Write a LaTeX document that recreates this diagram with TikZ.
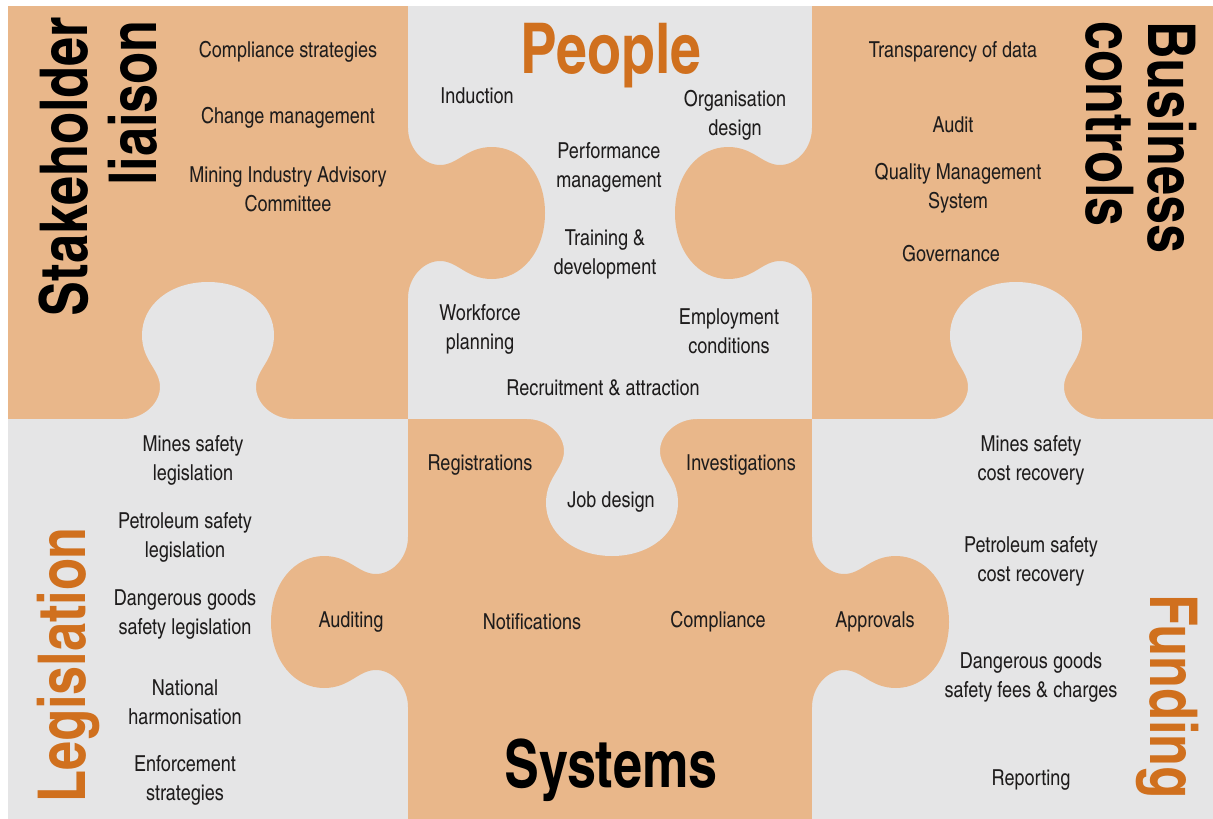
\documentclass[tikz,border=0pt]{standalone}
\usepackage{fontspec}
\setmainfont{texgyreheroscn}[Extension=.otf, UprightFont=*-regular, BoldFont=*-bold, ItalicFont=*-italic, BoldItalicFont=*-bolditalic, BoldFeatures={FakeStretch=0.965}]
\definecolor{pieceorange}{RGB}{233,183,138}
\definecolor{piecegray}{RGB}{229,229,230}
\definecolor{titleorange}{RGB}{208,112,30}
\definecolor{textdark}{RGB}{30,28,28}
\tikzstyle{item} = [align=center, text=textdark, inner sep=0pt, yshift=-2pt, font=\fontsize{22}{29}\selectfont]
\tikzstyle{heading} = [inner sep=0pt, font=\fontsize{66}{66}\selectfont\bfseries]

\begin{document}
\begin{tikzpicture}[x=1pt, y=-1pt]

  \useasboundingbox (0,0) rectangle (1213,819);

  % pieces
  \fill[pieceorange] (8,6) rectangle (408,419);
  \fill[piecegray] (408,6) rectangle (812,419);
  \fill[pieceorange] (812,6) rectangle (1213,419);
  \fill[piecegray] (8,419) rectangle (408,819);
  \fill[pieceorange] (408,419) rectangle (812,819);
  \fill[piecegray] (812,419) rectangle (1213,819);

  % tabs: base x / base y / direction / colour
  \foreach \bx/\by/\rot/\col in {208/419/90/piecegray, 408/213/0/pieceorange,
    812/213/180/pieceorange, 1016/419/90/piecegray, 612/419/-90/piecegray,
    408/622/180/pieceorange, 812/622/0/pieceorange} {
    \fill[\col, shift={(\bx,\by)}, rotate=\rot]
    (-1,-85) -- (0,-85) .. controls (0,-65) and (15,-48) .. (32,-48)
    .. controls (50,-48) and (58,-66) .. (84,-66)
    .. controls (114,-66) and (137,-38) .. (137,0)
    .. controls (137,38) and (114,66) .. (84,66)
    .. controls (58,66) and (50,48) .. (32,48)
    .. controls (15,48) and (0,65) .. (0,85) -- (-1,85) -- cycle;
  }

  % Stakeholder liaison
  \node[heading, rotate=90, anchor=base east] (stake) at (87,17) {Stakeholder};
  \node[heading, rotate=90, anchor=base east] (liaison) at (156,20) {liaison};
  \node[item] (compl) at (288,50) {Compliance strategies};
  \node[item] (change) at (288,116) {Change management};
  \node[item] (miac) at (288,187) {Mining Industry Advisory\\Committee};

  % People
  \node[heading, text=titleorange, anchor=base, font=\fontsize{70}{70}\selectfont\bfseries] (people) at (611,73) {People};
  \node[item] (induct) at (477,94) {Induction};
  \node[item] (orgdes) at (735,113) {Organisation\\design};
  \node[item] (perf) at (609,165) {Performance\\management};
  \node[item] (train) at (605,252) {Training \&\\development};
  \node[item] (workf) at (480,327) {Workforce\\planning};
  \node[item] (employ) at (729,329) {Employment\\conditions};
  \node[item] (recruit) at (603,386) {Recruitment \& attraction};

  % Business controls
  \node[heading, rotate=-90, anchor=base west] (business) at (1148,21) {Business};
  \node[heading, rotate=-90, anchor=base west] (controls) at (1086,21) {controls};
  \node[item] (transp) at (953,50) {Transparency of data};
  \node[item] (audit) at (953,123) {Audit};
  \node[item] (qms) at (958,186) {Quality Management\\System};
  \node[item] (govern) at (951,252) {Governance};

  % Legislation
  \node[heading, text=titleorange, rotate=90, anchor=base west] (legis) at (85,803) {Legislation};
  \node[item] (minesleg) at (193,458) {Mines safety\\legislation};
  \node[item] (petrolleg) at (185,535) {Petroleum safety\\legislation};
  \node[item] (dangleg) at (185,613) {Dangerous goods\\safety legislation};
  \node[item] (harmon) at (185,700) {National\\harmonisation};
  \node[item] (enforce) at (185,778) {Enforcement\\strategies};

  % Systems
  \node[heading, anchor=base] (systems) at (611,787) {Systems};
  \node[item] (regis) at (480,463) {Registrations};
  \node[item] (invest) at (741,463) {Investigations};
  \node[item] (jobdes) at (611,500) {Job design};
  \node[item] (auditing) at (351,620) {Auditing};
  \node[item] (notif) at (532,620) {Notifications};
  \node[item] (complsys) at (718,620) {Compliance};
  \node[item] (approv) at (875,620) {Approvals};

  % Funding
  \node[heading, text=titleorange, rotate=-90, anchor=base west] (funding) at (1150,594) {Funding};
  \node[item] (minescost) at (1031,458) {Mines safety\\cost recovery};
  \node[item] (petrolcost) at (1031,559) {Petroleum safety\\cost recovery};
  \node[item] (dangfees) at (1031,676) {Dangerous goods\\safety fees \& charges};
  \node[item] (report) at (1031,778) {Reporting};

\end{tikzpicture}
\end{document}
